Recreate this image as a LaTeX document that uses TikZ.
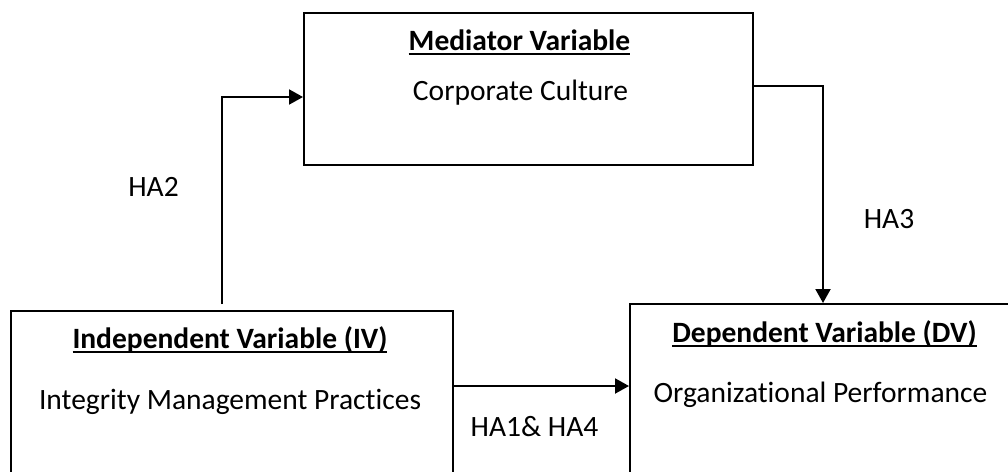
\documentclass[tikz,border=0pt]{standalone}
\usepackage{fontspec}
\setmainfont{Carlito}[Ligatures=NoCommon]
\usetikzlibrary{arrows.meta}
\newcommand\myul[1]{\setbox0\hbox{#1}\rlap{\rule[-5pt]{\wd0}{1.8pt}}\box0}
\begin{document}
\begin{tikzpicture}[x=1pt,y=-1pt,
  box/.style={draw, line width=2pt, inner sep=0pt, anchor=north west},
  lbl/.style={font=\fontsize{29.5}{35}\selectfont, inner sep=0pt, anchor=base},
  arr/.style={draw, line width=2pt, -{Triangle[length=14pt,width=15pt]}}]
\useasboundingbox (0,0) rectangle (1008,471);
\clip (0,0) rectangle (1008,471);
\fill[white] (0,0) rectangle (1008,471);
% boxes
\node[box, minimum width=449pt, minimum height=152pt] (med) at (303,12) {};
\node[box, minimum width=442pt, minimum height=200pt] (iv) at (10,310) {};
\node[box, minimum width=420pt, minimum height=200pt] (dv) at (629,303) {};
% box texts
\node[lbl] (medh) at (519.5,50) {\myul{\textbf{Mediator Variable}}};
\node[lbl] (medt) at (520.5,100) {Corporate Culture};
\node[lbl] (ivh) at (230,348) {\myul{\textbf{Independent Variable (IV)}}};
\node[lbl] (ivt) at (230,409) {Integrity Management Practices};
\node[lbl] (dvh) at (824.5,342) {\myul{\textbf{Dependent Variable (DV)}}};
\node[lbl] (dvt) at (820.5,402) {Organizational Performance};
% connector labels
\node[lbl] (ha2) at (153.5,196) {HA2};
\node[lbl] (ha3) at (889,228) {HA3};
\node[lbl] (ha14) at (534.5,436) {HA1\& HA4};
% connectors
\coordinate (s2) at (222,304);
\draw[arr] (s2) |- (med.west |- 0,97);
\draw[arr] (med.east |- 0,86) -| (dv.north -| 823,0);
\draw[arr] (iv.east |- 0,386) -- (dv.west |- 0,386);
\end{tikzpicture}
\end{document}
